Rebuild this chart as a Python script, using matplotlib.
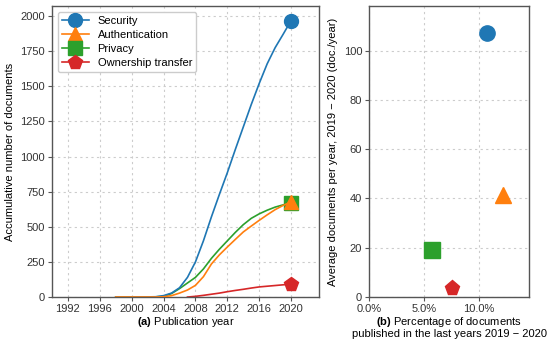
import matplotlib
matplotlib.use('Agg')
import matplotlib.pyplot as plt
import numpy as np

plt.rcParams['font.family'] = ['Liberation Sans', 'DejaVu Sans']
plt.rcParams['mathtext.fontset'] = 'custom'
plt.rcParams['mathtext.bf'] = 'Liberation Sans:bold'
plt.rcParams['mathtext.rm'] = 'Liberation Sans'

# accumulated documents per year
years = [1998, 1999, 2000, 2001, 2002, 2003, 2004, 2005, 2006, 2007, 2008, 2009,
         2010, 2011, 2012, 2013, 2014, 2015, 2016, 2017, 2018, 2019, 2020]
security = [0, 0, 0, 1, 1, 2, 10, 28, 66, 140, 250, 400,
            570, 730, 885, 1050, 1210, 1370, 1520, 1660, 1775, 1870, 1968]
authentication = [0, 0, 0, 0, 0, 0, 2, 10, 28, 50, 83, 145,
                  235, 300, 356, 410, 463, 505, 546, 585, 622, 652, 677]
privacy = [0, 0, 0, 0, 0, 1, 5, 25, 60, 100, 140, 200,
           275, 340, 400, 460, 515, 560, 592, 618, 640, 656, 670]
ownership = [None] * 9 + [0, 5, 12, 20, 28, 38, 47, 55, 64, 72, 77, 82, 87, 92]

labels = ['Security', 'Authentication', 'Privacy', 'Ownership transfer']
markers = ['o', '^', 's', 'p']
colors = ['#1f77b4', '#ff7f0e', '#2ca02c', '#d62728']
zorders = [2.4, 2.6, 2.2, 2.3]

# recent share (2019-2020) and average docs per year
pct_recent = [10.8, 12.2, 5.7, 7.6]
avg_per_year = [107, 41.5, 19, 3.5]

fig = plt.figure(figsize=(5.5, 3.43), dpi=100)
ax1 = fig.add_axes([0.0945, 0.134, 0.4855, 0.848])
ax2 = fig.add_axes([0.671, 0.134, 0.291, 0.848])

series = [security, authentication, privacy, ownership]
for vals, lab, m, c, z in zip(series, labels, markers, colors, zorders):
    xs = [y for y, v in zip(years, vals) if v is not None]
    ys = [v for v in vals if v is not None]
    ax1.plot(xs, ys, color=c, lw=1.2, marker=m, markevery=[len(xs) - 1],
             ms=10, label=lab, zorder=z)

ax1.set_xlim(1990, 2023.5)
ax1.set_ylim(0, 2070)
ax1.set_xticks(np.arange(1992, 2021, 4))
ax1.set_yticks(np.arange(0, 2001, 250))
ax1.set_xlabel(r'$\mathbf{(a)}$ Publication year', fontsize=8, labelpad=1)
ax1.set_ylabel('Accumulative number of documents', fontsize=8)
ax1.legend(loc='upper left', fontsize=8, framealpha=1, edgecolor='#cccccc',
           handlelength=2.4, borderpad=0.4, labelspacing=0.35)

for p, a, m, c in zip(pct_recent, avg_per_year, markers, colors):
    ax2.plot(p, a, marker=m, color=c, ms=11, ls='None')

ax2.set_xlim(0, 14.6)
ax2.set_ylim(0, 118)
ax2.set_xticks([0, 5, 10])
ax2.set_xticklabels(['0.0%', '5.0%', '10.0%'])
ax2.set_yticks(np.arange(0, 101, 20))
ax2.set_xlabel('$\\mathbf{(b)}$ Percentage of documents\npublished in the last years 2019 \u2212 2020',
               fontsize=8, labelpad=1, linespacing=1.0)
ax2.set_ylabel('Average documents per year, 2019 \u2212 2020 (doc./year)', fontsize=8)

for ax in (ax1, ax2):
    ax.grid(True, ls=(0, (2, 3)), color='#cccccc', lw=0.8)
    ax.set_axisbelow(True)
    for s in ax.spines.values():
        s.set_color('#555555')
        s.set_linewidth(1.0)
    ax.tick_params(labelsize=8, length=3, pad=2, color='#555555', labelcolor='#333333')

fig.savefig('out.png', dpi=100)
